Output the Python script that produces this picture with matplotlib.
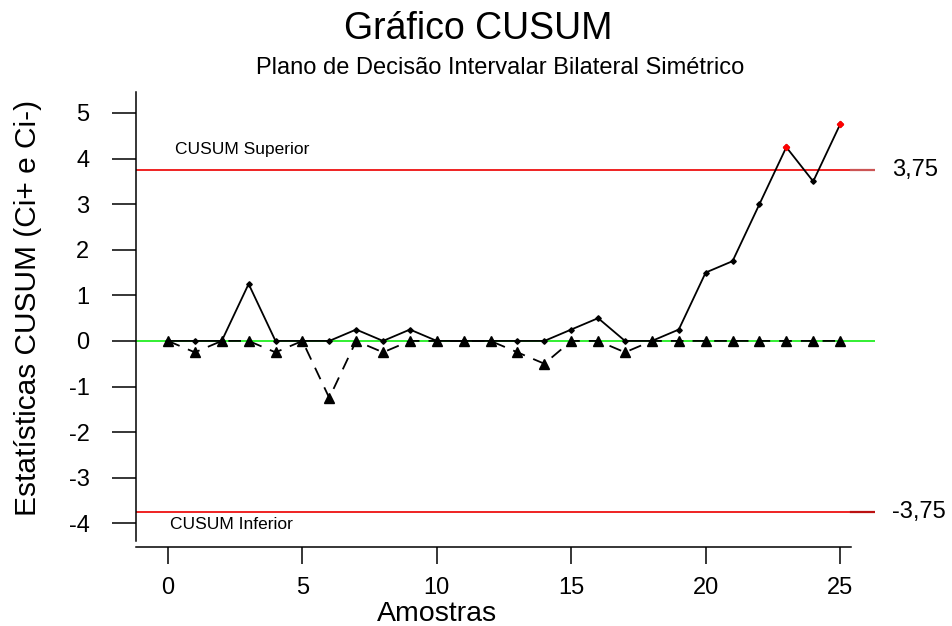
import numpy as np
import matplotlib
matplotlib.use("Agg")
import matplotlib.pyplot as plt

plt.rcParams['font.family'] = ['Liberation Sans', 'DejaVu Sans']
plt.rcParams['axes.unicode_minus'] = False

# CUSUM statistics per sample
amostras = np.arange(0, 26)
ci_mais = [0, 0, 0, 1.25, 0, 0, 0, 0.25, 0, 0.25, 0, 0, 0, 0, 0,
           0.25, 0.5, 0, 0, 0.25, 1.5, 1.75, 3.0, 4.25, 3.5, 4.75]
ci_menos = [0, -0.25, 0, 0, -0.25, 0, -1.25, 0, -0.25, 0, 0, 0, 0, -0.25, -0.5,
            0, 0, -0.25, 0, 0, 0, 0, 0, 0, 0, 0]
H = 3.75
yticks = list(range(-4, 6))
xticks = [0, 5, 10, 15, 20, 25]

fig = plt.figure(figsize=(9.53, 6.26), dpi=100)
ax = fig.add_axes([0.1424, 0.1262, 0.7758, 0.7268])
x0, x1 = -1.2, 26.3
ax.set_xlim(x0, x1)
ax.set_ylim(-4.52, 5.46)

# limits and centre line
ax.plot([x0, x1], [H, H], color='#ee1111', lw=1.3, zorder=2)
ax.plot([x0, x1], [-H, -H], color='#ee1111', lw=1.3, zorder=2)
ax.plot([25.4, x1], [H, H], color='#cc5555', lw=1.6, zorder=2)
ax.plot([25.4, x1], [-H, -H], color='#bb1111', lw=1.6, zorder=2)
ax.plot([x0, x1], [0, 0], color='#22ee22', lw=1.3, zorder=2)

# Ci- (dashed, triangles) and Ci+ (solid, small diamonds)
ax.plot(amostras, ci_menos, color='black', lw=1.3, linestyle=(0, (7, 5)),
        marker='^', ms=7, zorder=3)
ax.plot(amostras, ci_mais, color='black', lw=1.3, marker='D', ms=2.8, zorder=4)
fora = [i for i, v in enumerate(ci_mais) if v > H]
ax.plot(amostras[fora], [ci_mais[i] for i in fora], linestyle='none',
        marker='D', ms=3.2, color='red', zorder=5)

ax.text(0.25, 4.19, 'CUSUM Superior', fontsize=12.5, va='center', ha='left')
ax.text(0.07, -4.035, 'CUSUM Inferior', fontsize=12.5, va='center', ha='left')
ax.text(26.93, H, '3,75', fontsize=17, va='center', ha='left', clip_on=False)
ax.text(26.93, -H, '-3,75', fontsize=17, va='center', ha='left', clip_on=False)

# detached axes
for s in ['top', 'right']:
    ax.spines[s].set_visible(False)
ax.spines['left'].set_bounds(-4.39, 5.46)
ax.spines['bottom'].set_bounds(x0, 25.4)
ax.spines['left'].set_linewidth(1.1)
ax.spines['bottom'].set_linewidth(1.1)
ax.set_yticks(yticks)
ax.set_xticks(xticks)
ax.tick_params(axis='y', length=17.3, width=1.1, pad=16, labelsize=17)
ax.tick_params(axis='x', length=12.5, width=1.1, pad=9, labelsize=17)

fig.text(0.502, 1 - 39 / 626, 'Gráfico CUSUM', fontsize=27,
         ha='center', va='baseline')
fig.text(0.5247, 1 - 74 / 626, 'Plano de Decisão Intervalar Bilateral Simétrico',
         fontsize=17, ha='center', va='baseline')
fig.text(0.4586, 5 / 626, 'Amostras', fontsize=20.5, ha='center', va='baseline')
fig.text(0.029, 0.508, 'Estatísticas CUSUM (Ci+ e Ci-)', fontsize=21.5,
         rotation=90, ha='center', va='center')

fig.savefig('out.png', dpi=100)
